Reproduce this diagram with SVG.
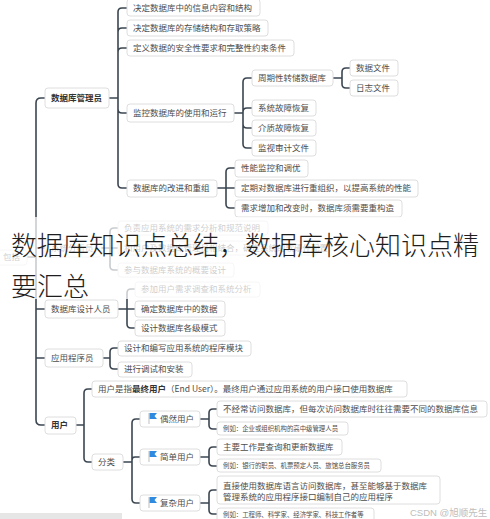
<svg xmlns="http://www.w3.org/2000/svg" width="490" height="519" viewBox="0 0 490 519">
<style>
.n{fill:#fff;stroke:#dedede;stroke-width:1}
.t{font-family:"Noto Sans CJK SC","Noto Sans",sans-serif;font-size:8.5px;fill:#4d4d4d}
.b{font-weight:bold;fill:#333}
.s{font-size:6.4px}
.c{fill:none;stroke:#3b4651;stroke-width:1.6;stroke-linecap:round}
.title{font-family:"Noto Sans CJK SC",sans-serif;font-size:26px;font-weight:300;fill:#1e1e1e}
</style>
<rect width="490" height="519" fill="#fff"/>
<g id="connectors">
<path class="c" d="M45 98 H41 Q36 98 36 103 V420 Q36 425 41 425 H45 M36 248 H45 M27 257 H36 M36 309 H45 M36 358 H45"/>
<path class="c" d="M109 98 H118 M118 98 V12 Q118 8 122 8 H127 M118 98 V32 Q118 28 122 28 H127 M118 98 V52 Q118 48 122 48 H127 M118 98 V109 Q118 113 122 113 H127 M118 98 V184 Q118 188 122 188 H127"/>
<path class="c" d="M234 113 H243 M243 113 V82 Q243 78 247 78 H252 M243 113 V112 Q243 108 247 108 H252 M243 113 V124 Q243 128 247 128 H252 M243 113 V144 Q243 148 247 148 H252"/>
<path class="c" d="M333 78 H342 M342 78 V72 Q342 68 346 68 H350 M342 78 V84 Q342 88 346 88 H350"/>
<path class="c" d="M217 188 H226 M226 188 V172 Q226 168 230 168 H235 M226 188 H235 M226 188 V204 Q226 208 230 208 H235"/>
<path class="c" d="M101 248 H110 M110 248 V232 Q110 228 114 228 H118 M110 248 H118 M110 248 V266 Q110 270 114 270 H118"/>
<path class="c" d="M118 309 H127 M127 309 V293 Q127 289 131 289 H135 M127 309 H135 M127 309 V324 Q127 328 131 328 H135"/>
<path class="c" d="M103 358 H110 M110 358 V352 Q110 348 114 348 H118 M110 358 V365 Q110 369 114 369 H118"/>
<path class="c" d="M76 425 H84 M84 425 V393 Q84 389 88 389 H92 M84 425 V458 Q84 462 88 462 H92"/>
<path class="c" d="M123 462 H132 M132 462 V423 Q132 419 136 419 H140 M132 462 V460 Q132 457 135 457 H140 M132 462 V499 Q132 503 136 503 H140"/>
<path class="c" d="M200 419 H209 M209 419 V413 Q209 409 213 409 H217 M209 419 V425 Q209 429 213 429 H217"/>
<path class="c" d="M200 457 H209 M209 457 V451 Q209 447 213 447 H217 M209 457 V462 Q209 466 213 466 H217"/>
<path class="c" d="M200 503 H209 M209 503 V494 Q209 490 213 490 H217 M209 503 V510 Q209 514 213 514 H217"/>
</g>
<g id="n-dba"><rect class="n" x="45" y="88" width="64" height="20" rx="3"/><text class="t b" x="51" y="101">数据库管理员</text></g>
<g id="n-dba1"><rect class="n" x="127" y="-1" width="133" height="17" rx="3"/><text class="t" x="133" y="11">决定数据库中的信息内容和结构</text></g>
<g id="n-dba2"><rect class="n" x="127" y="20" width="141" height="16" rx="3"/><text class="t" x="133" y="31">决定数据库的存储结构和存取策略</text></g>
<g id="n-dba3"><rect class="n" x="127" y="40" width="167" height="16" rx="3"/><text class="t" x="133" y="51">定义数据的安全性要求和完整性约束条件</text></g>
<g id="n-dba4"><rect class="n" x="127" y="104" width="107" height="18" rx="3"/><text class="t" x="133" y="116">监控数据库的使用和运行</text></g>
<g id="n-dba5"><rect class="n" x="127" y="180" width="90" height="17" rx="3"/><text class="t" x="133" y="191">数据库的改进和重组</text></g>
<g id="n-m1"><rect class="n" x="252" y="70" width="81" height="16" rx="3"/><text class="t" x="258" y="81">周期性转储数据库</text></g>
<g id="n-m2"><rect class="n" x="252" y="100" width="64" height="16" rx="3"/><text class="t" x="258" y="111">系统故障恢复</text></g>
<g id="n-m3"><rect class="n" x="252" y="120" width="64" height="16" rx="3"/><text class="t" x="258" y="131">介质故障恢复</text></g>
<g id="n-m4"><rect class="n" x="252" y="140" width="64" height="16" rx="3"/><text class="t" x="258" y="151">监视审计文件</text></g>
<g id="n-f1"><rect class="n" x="350" y="60" width="48" height="16" rx="3"/><text class="t" x="356" y="71">数据文件</text></g>
<g id="n-f2"><rect class="n" x="350" y="80" width="48" height="16" rx="3"/><text class="t" x="356" y="91">日志文件</text></g>
<g id="n-g1"><rect class="n" x="235" y="160" width="73" height="17" rx="3"/><text class="t" x="241" y="171">性能监控和调优</text></g>
<g id="n-g2"><rect class="n" x="235" y="180" width="183" height="17" rx="3"/><text class="t" x="241" y="191">定期对数据库进行重组织，以提高系统的性能</text></g>
<g id="n-g3"><rect class="n" x="235" y="200" width="167" height="17" rx="3"/><text class="t" x="241" y="211">需求增加和改变时，数据库须需要重构造</text></g>
<g id="n-root"><rect class="n" x="-3" y="250" width="30" height="15" rx="3"/><text class="t" x="3" y="260">包括</text></g>
<g id="n-sa"><rect class="n" x="45" y="240" width="56" height="17" rx="3"/><text class="t" x="51" y="251">系统分析员</text></g>
<g id="n-sa1"><rect class="n" x="118" y="221" width="150" height="14" rx="3"/><text class="t" x="124" y="231">负责应用系统的需求分析和规范说明</text></g>
<g id="n-sa2"><rect class="n" x="118" y="241" width="200" height="14" rx="3"/><text class="t" x="124" y="251">和用户及数据库管理员相结合，确定系统的软硬件配置</text></g>
<g id="n-sa3"><rect class="n" x="118" y="263" width="116" height="14" rx="3"/><text class="t" x="124" y="273">参与数据库系统的概要设计</text></g>
<g id="n-dd"><rect class="n" x="45" y="300" width="73" height="18" rx="3"/><text class="t" x="51" y="312">数据库设计人员</text></g>
<g id="n-dd1"><rect class="n" x="135" y="282" width="125" height="15" rx="3"/><text class="t" x="141" y="292">参加用户需求调查和系统分析</text></g>
<g id="n-dd2"><rect class="n" x="135" y="301" width="90" height="16" rx="3"/><text class="t" x="141" y="312">确定数据库中的数据</text></g>
<g id="n-dd3"><rect class="n" x="135" y="320" width="90" height="16" rx="3"/><text class="t" x="141" y="331">设计数据库各级模式</text></g>
<g id="n-ap"><rect class="n" x="45" y="349" width="58" height="18" rx="3"/><text class="t" x="51" y="361">应用程序员</text></g>
<g id="n-ap1"><rect class="n" x="118" y="341" width="133" height="15" rx="3"/><text class="t" x="124" y="351">设计和编写应用系统的程序模块</text></g>
<g id="n-ap2"><rect class="n" x="118" y="362" width="74" height="15" rx="3"/><text class="t" x="124" y="372">进行调试和安装</text></g>
<g id="n-u"><rect class="n" x="45" y="417" width="31" height="17" rx="3"/><text class="t b" x="51" y="428">用户</text></g>
<g id="n-u1"><rect class="n" x="92" y="381" width="315" height="16" rx="3"/><text class="t" x="98" y="392">用户是指<tspan class="b">最终用户</tspan>（End User）。最终用户通过应用系统的用户接口使用数据库</text></g>
<g id="n-u2"><rect class="n" x="92" y="454" width="31" height="16" rx="3"/><text class="t" x="98" y="465">分类</text></g>
<defs>
<g id="flag"><line x1="0" y1="0" x2="0" y2="11" stroke="#c9c9c9" stroke-width="1.2"/><path d="M0.6 0 H8 L5.5 3 L8 6 H0.6 Z" fill="#2f8be0"/></g>
</defs>
<g id="n-c1"><rect class="n" x="140" y="411" width="60" height="16" rx="3"/><use href="#flag" x="149" y="413"/><text class="t" x="160" y="422">偶然用户</text></g>
<g id="n-c2"><rect class="n" x="140" y="449" width="60" height="16" rx="3"/><use href="#flag" x="149" y="451"/><text class="t" x="160" y="460">简单用户</text></g>
<g id="n-c3"><rect class="n" x="140" y="495" width="60" height="16" rx="3"/><use href="#flag" x="149" y="497"/><text class="t" x="160" y="506">复杂用户</text></g>
<g id="n-c1a"><rect class="n" x="217" y="401" width="270" height="16" rx="3"/><text class="t" x="223" y="412">不经常访问数据库，但每次访问数据库时往往需要不同的数据库信息</text></g>
<g id="n-c1b"><rect class="n" x="217" y="422" width="131" height="13" rx="3"/><text class="t s" x="223" y="431">例如：企业或组织机构的高中级管理人员</text></g>
<g id="n-c2a"><rect class="n" x="217" y="439" width="125" height="16" rx="3"/><text class="t" x="223" y="450">主要工作是查询和更新数据库</text></g>
<g id="n-c2b"><rect class="n" x="217" y="459" width="164" height="13" rx="3"/><text class="t s" x="223" y="468">例如：银行的职员、机票预定人员、旅馆总台服务员</text></g>
<g id="n-c3a"><rect class="n" x="217" y="476" width="223" height="28" rx="3"/><text class="t" x="223" y="489">直接使用数据库语言访问数据库，甚至能够基于数据库</text><text class="t" x="223" y="500">管理系统的应用程序接口编制自己的应用程序</text></g>
<g id="n-c3b"><rect class="n" x="217" y="508" width="157" height="14" rx="3"/><text class="t s" x="223" y="517">例如：工程师、科学家、经济学家、科技工作者等</text></g>
<rect x="0" y="217" width="490" height="82" fill="#fff" opacity="0.72"/>
<text class="title" x="11" y="255">数据库知识点总结，数据库核心知识点精</text>
<text class="title" x="11" y="296">要汇总</text>
<rect x="0" y="513" width="122" height="6" fill="#e6e6e6"/>
<text x="410" y="516" font-family="Liberation Sans, Noto Sans CJK SC, sans-serif" font-size="9.5" fill="#bdbdbd">CSDN @旭顺先生</text>
</svg>
